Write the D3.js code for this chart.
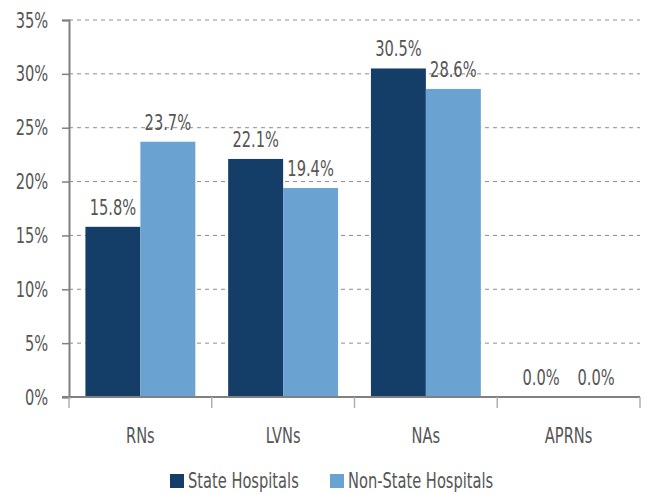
<!DOCTYPE html>
<html>
<head>
<meta charset="utf-8">
<script src="https://cdn.jsdelivr.net/npm/d3@7"></script>
<style>
  body { margin: 0; background: #fff; }
  text { font-family: "DejaVu Sans Condensed", "DejaVu Sans", sans-serif; fill: #555; }
</style>
</head>
<body>
<div class="chart"></div>
<script>
var categories = ['RNs', 'LVNs', 'NAs', 'APRNs'];
var seriesNames = ['State Hospitals', 'Non-State Hospitals'];
var stateValues = [15.8, 22.1, 30.5, 0.0];
var nonStateValues = [23.7, 19.4, 28.6, 0.0];
var yTicks = [0, 5, 10, 15, 20, 25, 30, 35];
var colours = ['#143d68', '#6aa3d1'];

var width = 646, height = 494;
var margin = { top: 20, right: 6, bottom: 97, left: 69 };
var narrow = 0.74; // squeeze text to mimic the condensed face
var fontSize = '22px';

var svg = d3.select('.chart')
    .append('svg')
    .attr('width', width)
    .attr('height', height);

var x = d3.scaleBand()
    .domain(categories)
    .range([margin.left, width - margin.right])
    .paddingInner(0.23)
    .paddingOuter(0.115);

var xSub = d3.scaleBand()
    .domain(seriesNames)
    .range([0, x.bandwidth()]);

var y = d3.scaleLinear()
    .domain([0, 35])
    .range([height - margin.bottom, margin.top]);

function place(px, py) {
    return 'translate(' + px + ',' + py + ') scale(' + narrow + ',1)';
}

// gridlines
svg.append('g')
    .selectAll('line')
    .data(yTicks.filter(d => d > 0))
    .enter()
    .append('line')
    .attr('x1', margin.left)
    .attr('x2', width - margin.right)
    .attr('y1', d => y(d))
    .attr('y2', d => y(d))
    .attr('stroke', '#8c8c8c')
    .attr('stroke-width', 1)
    .attr('stroke-dasharray', '4,4');

var rows = categories.map((c, i) => ({ cat: c, values: [stateValues[i], nonStateValues[i]] }));

var groups = svg.selectAll('.grp')
    .data(rows)
    .enter()
    .append('g')
    .attr('transform', d => 'translate(' + x(d.cat) + ',0)');

groups.selectAll('rect')
    .data(d => d.values.map((v, j) => ({ name: seriesNames[j], value: v, j: j })))
    .enter()
    .append('rect')
    .attr('x', d => xSub(d.name))
    .attr('width', xSub.bandwidth())
    .attr('y', d => y(d.value))
    .attr('height', d => y(0) - y(d.value))
    .attr('fill', d => colours[d.j]);

groups.selectAll('text')
    .data(d => d.values.map((v, j) => ({ name: seriesNames[j], value: v })))
    .enter()
    .append('text')
    .attr('transform', d => place(xSub(d.name) + xSub.bandwidth() / 2, y(d.value) - 12))
    .attr('text-anchor', 'middle')
    .style('font-size', fontSize)
    .text(d => d.value.toFixed(1) + '%');

// y axis
var yAxis = svg.append('g')
    .attr('transform', 'translate(' + margin.left + ',0)')
    .call(d3.axisLeft(y).tickValues(yTicks).tickFormat(d => d + '%').tickSize(7).tickPadding(21));
yAxis.select('.domain').attr('stroke', '#808080').attr('stroke-width', 2);
yAxis.selectAll('.tick line').attr('stroke', '#808080').attr('stroke-width', 1.5);
yAxis.selectAll('.tick text')
    .attr('transform', 'scale(' + narrow + ',1)')
    .style('font-size', fontSize)
    .attr('fill', '#555');

// x axis
var xAxisG = svg.append('g')
    .attr('transform', 'translate(0,' + y(0) + ')');
xAxisG.append('line')
    .attr('x1', margin.left - 7)
    .attr('x2', width - margin.right)
    .attr('stroke', '#808080')
    .attr('stroke-width', 2);
var bounds = categories.map(c => x(c) - x.step() * x.paddingInner() / 2);
bounds.push(width - margin.right);
xAxisG.selectAll('.xt')
    .data(bounds)
    .enter()
    .append('line')
    .attr('x1', d => d)
    .attr('x2', d => d)
    .attr('y1', 0)
    .attr('y2', 11)
    .attr('stroke', '#b0b0b0')
    .attr('stroke-width', 1.5);
xAxisG.selectAll('.xl')
    .data(categories)
    .enter()
    .append('text')
    .attr('transform', d => place(x(d) + x.bandwidth() / 2, 46))
    .attr('text-anchor', 'middle')
    .style('font-size', fontSize)
    .text(d => d);

// legend
var legendX = [170, 330];
var legend = svg.selectAll('.leg')
    .data(seriesNames)
    .enter()
    .append('g')
    .attr('transform', (d, i) => 'translate(' + legendX[i] + ',474)');
legend.append('rect')
    .attr('width', 14)
    .attr('height', 14)
    .attr('fill', (d, i) => colours[i]);
legend.append('text')
    .attr('transform', place(18, 13.5))
    .style('font-size', fontSize)
    .text(d => d);
</script>
</body>
</html>
